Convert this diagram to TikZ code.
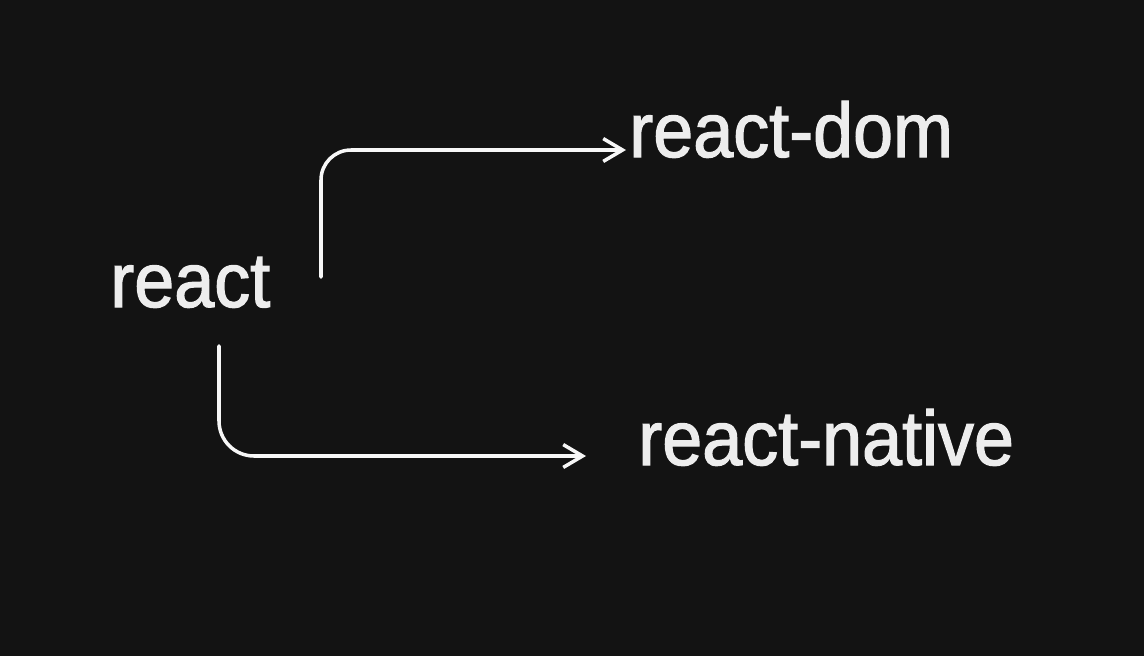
\documentclass[tikz,border=0pt]{standalone}
\usepackage{fontspec}
\setmainfont{Liberation Sans}[FakeStretch=0.93,FakeBold=1.6]
\usetikzlibrary{arrows.meta}
\definecolor{bg}{HTML}{131313}
\definecolor{ink}{HTML}{EDEDED}
\definecolor{wire}{HTML}{F7F7F7}
\tikzset{
	pkg/.style={anchor=base west, inner sep=0pt, text=ink, font=\fontsize{44}{52}\selectfont},
	link/.style={draw=wire, line width=2pt, line cap=round, line join=round,
		-{Straight Barb[length=11pt,width=13pt,line width=2pt]}}
}

\begin{document}
\begin{tikzpicture}[x=0.02cm,y=-0.02cm]
		\fill [bg] (0,0) rectangle (1144,656);
		\useasboundingbox (0,0) rectangle (1144,656);
		\node [pkg] (react) at (110,307) {react};
		\node [pkg] (dom) at (629,157) {react-dom};
		\node [pkg] (native) at (638,465) {react-native};
		\coordinate (domstart) at (321,277);
		\coordinate (nativestart) at (219,346);
		\draw [link, rounded corners=0.6cm] (domstart) |- ([xshift=-0.06cm,yshift=0.14cm]dom.base west);
		\draw [link, rounded corners=0.7cm] (nativestart) |- ([xshift=-1.04cm,yshift=0.18cm]native.base west);
	\end{tikzpicture}
\end{document}
